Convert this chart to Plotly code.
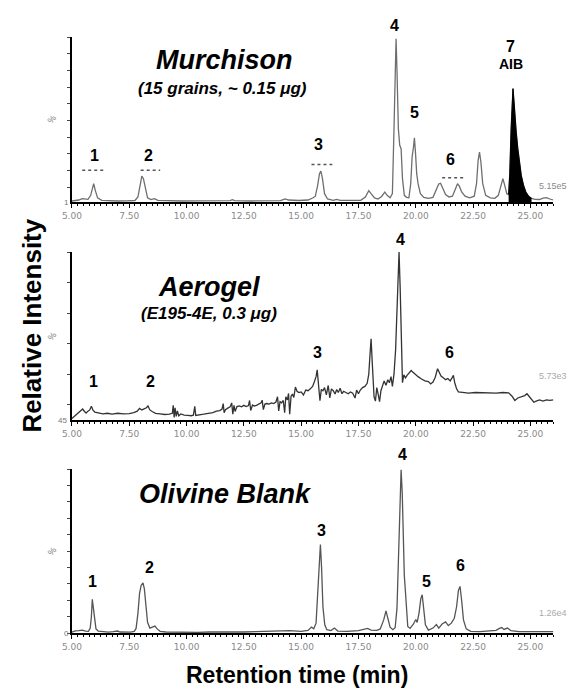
import plotly.graph_objects as go

# ---------------- data ----------------
tick_vals = [5.0, 7.5, 10.0, 12.5, 15.0, 17.5, 20.0, 22.5, 25.0]
tick_text = ["5.00", "7.50", "10.00", "12.50", "15.00", "17.50", "20.00", "22.50", "25.00"]

murchison_time = [5.0, 5.15, 5.3, 5.45, 5.55, 5.7, 5.82, 5.9, 5.95, 6.02, 6.12, 6.3, 6.6, 7.0, 7.4, 7.75, 7.88, 7.97,
                  8.05, 8.12, 8.2, 8.3, 8.45, 8.6, 8.75, 9.2, 9.8, 10.5, 11.2, 11.9, 12.0, 12.1, 12.8, 13.5, 14.1, 14.3,
                  14.45, 14.9, 15.3, 15.5, 15.62, 15.72, 15.8, 15.86, 15.93, 16.02, 16.15, 16.4, 16.55, 16.7, 17.2,
                  17.6, 17.8, 17.95, 18.05, 18.2, 18.35, 18.5, 18.65, 18.75, 18.88, 18.98, 19.05, 19.1, 19.14, 19.18,
                  19.24, 19.3, 19.36, 19.42, 19.5, 19.6, 19.7, 19.78, 19.84, 19.9, 19.94, 19.99, 20.04, 20.1, 20.2,
                  20.35, 20.55, 20.75, 20.9, 21.0, 21.08, 21.18, 21.3, 21.45, 21.6, 21.72, 21.82, 21.9, 22.0, 22.15,
                  22.35, 22.55, 22.65, 22.72, 22.78, 22.84, 22.92, 23.05, 23.25, 23.45, 23.6, 23.72, 23.8, 23.88,
                  23.97, 24.05, 24.1, 24.16, 24.21, 24.24, 24.28, 24.33, 24.38, 24.45, 24.52, 24.6, 24.7, 24.8,
                  24.92, 25.05, 25.2, 25.4, 25.55, 25.7, 25.85, 26.0]
murchison_pct = [1.6, 1.8, 2.2, 3.0, 2.8, 2.6, 5.0, 10.5, 12.0, 8.0, 3.5, 2.0, 1.7, 1.6, 1.7, 1.9, 4.0, 11.0,
                 16.5, 15.0, 9.0, 3.5, 2.4, 3.0, 2.0, 1.7, 1.6, 1.7, 1.6, 1.8, 2.4, 1.8, 1.6, 1.7, 1.8, 2.9,
                 2.2, 1.9, 2.2, 3.4, 4.5, 11.0, 18.0, 19.5, 15.0, 6.0, 2.8, 2.0, 2.6, 2.0, 1.8,
                 2.0, 4.0, 7.8, 6.0, 3.5, 2.8, 4.2, 7.0, 5.0, 3.5, 6.0, 45, 92, 99, 80,
                 45, 35, 33, 15, 5, 3.8, 3.5, 12, 28, 34, 39.5, 30, 18, 12, 6,
                 3.8, 3.2, 3.8, 8, 11.8, 12.2, 9, 5.5, 4.0, 4.5, 8.5, 12, 10.5, 7, 4.5,
                 3.5, 4.5, 12, 26, 31, 25, 12, 5, 3.5, 3.2, 5, 11, 15, 11,
                 6, 5.5, 18, 45, 66, 69, 62, 50, 43, 33, 24, 17, 11, 7,
                 4.5, 3.2, 2.6, 2.5, 3.3, 3.6, 2.8, 2.2]
aib_window = [24.05, 25.05]

aerogel_time = [5.0, 5.1, 5.2, 5.3, 5.4, 5.47, 5.55, 5.62, 5.7, 5.78, 5.85, 5.92, 6.0, 6.15, 6.35, 6.55, 6.75, 7.0,
                7.25, 7.5, 7.7, 7.85, 7.95, 8.05, 8.15, 8.25, 8.32, 8.4, 8.5, 8.65, 8.85, 9.05, 9.25, 9.38, 9.42,
                9.46, 9.5, 9.55, 9.6, 9.66, 9.75, 9.9, 10.05, 10.2, 10.3, 10.36, 10.4, 10.55, 10.75, 10.95, 11.15,
                11.3, 11.45, 11.55, 11.6, 11.64, 11.7, 11.8, 11.9, 11.97, 12.02, 12.07, 12.12, 12.2, 12.3, 12.4,
                12.5, 12.6, 12.7, 12.75, 12.8, 12.88, 12.95, 13.05, 13.15, 13.25, 13.3, 13.35, 13.42, 13.5, 13.6,
                13.7, 13.8, 13.9, 13.97, 14.02, 14.08, 14.15, 14.22, 14.28, 14.33, 14.4, 14.45, 14.5, 14.56, 14.62,
                14.68, 14.75, 14.82, 14.9, 15.0, 15.1, 15.2, 15.3, 15.4, 15.5, 15.58, 15.65, 15.7, 15.76, 15.82,
                15.88, 15.95, 16.02, 16.1, 16.18, 16.25, 16.32, 16.4, 16.48, 16.55, 16.62, 16.7, 16.78, 16.85,
                16.95, 17.05, 17.15, 17.25, 17.35, 17.42, 17.5, 17.58, 17.68, 17.78, 17.88, 17.95, 18.0, 18.05,
                18.1, 18.14, 18.18, 18.24, 18.3, 18.36, 18.42, 18.48, 18.55, 18.62, 18.7, 18.78, 18.85, 18.92,
                18.98, 19.05, 19.12, 19.2, 19.27, 19.32, 19.37, 19.42, 19.48, 19.55, 19.62, 19.7, 19.8, 19.88,
                19.98, 20.1, 20.25, 20.4, 20.55, 20.65, 20.75, 20.85, 20.95, 21.03, 21.1, 21.2, 21.3, 21.4, 21.5,
                21.58, 21.64, 21.7, 21.78, 21.86, 22.0, 22.3, 22.6, 22.9, 23.2, 23.5, 23.8, 24.05, 24.2, 24.32,
                24.45, 24.6, 24.75, 24.85, 24.95, 25.05, 25.15, 25.25, 25.4, 25.55, 25.7, 25.85, 26.0]
aerogel_pct = [45.5, 46.2, 46.8, 47.4, 48.0, 48.6, 47.8, 47.3, 47.9, 48.3, 49.5, 48.2, 47.6, 47.3, 47.0, 47.2, 46.9, 47.2,
               47.0, 47.1, 47.4, 47.9, 48.8, 48.3, 48.6, 49.0, 49.6, 48.3, 47.8, 47.2, 47.0, 46.8, 46.9, 47.2, 49.8,
               45.8, 49.0, 46.2, 48.0, 46.4, 47.0, 46.6, 46.5, 46.4, 46.6, 49.5, 46.5, 46.6, 46.9, 47.2, 47.4,
               47.9, 48.1, 48.6, 50.4, 47.4, 48.4, 48.9, 49.3, 50.6, 46.9, 49.8, 47.8, 49.4, 49.6, 49.3,
               49.8, 49.4, 49.7, 51.4, 48.1, 49.9, 49.6, 49.8, 50.1, 50.6, 51.5, 48.4, 50.2, 50.4, 50.2,
               50.6, 50.4, 50.9, 52.6, 48.0, 51.0, 50.6, 51.4, 47.4, 52.6, 51.6, 53.7, 46.9, 52.8, 53.5,
               52.4, 55.8, 54.4, 54.0, 54.2, 53.2, 54.8, 54.6, 55.2, 56.0, 57.6, 59.2, 61.4, 56.0, 51.3,
               55.0, 54.6, 55.6, 53.2, 56.3, 52.2, 55.2, 54.6, 53.5, 55.0, 54.0, 55.4, 53.6, 54.4,
               54.0, 53.6, 54.2, 53.8, 52.2, 54.8, 53.6, 54.8, 55.6, 56.0, 57.0, 60.0, 66.0, 71.6,
               64.0, 55.0, 52.6, 51.2, 55.6, 53.4, 51.0, 54.6, 56.6, 57.8, 56.4, 58.2, 57.2, 59.2,
               56.0, 60.0, 68.0, 82.0, 100.0, 88.0, 70.0, 57.2, 59.8, 58.8, 59.6, 60.4, 61.2, 60.6,
               59.8, 59.2, 58.4, 57.8, 57.6, 56.8, 57.4, 59.0, 61.8, 60.2, 59.4, 58.8, 58.2, 58.6, 57.8,
               58.8, 59.6, 57.2, 55.2, 54.2, 54.0, 53.8, 54.0, 53.9, 54.0, 53.8, 54.0, 53.9, 52.8, 51.4,
               52.2, 52.6, 53.0, 53.6, 52.6, 51.6, 50.8, 51.2, 51.6, 51.2, 51.6, 51.4, 51.6]

olivine_time = [5.0, 5.15, 5.3, 5.45, 5.6, 5.72, 5.8, 5.85, 5.89, 5.93, 5.98, 6.05, 6.15, 6.35, 6.6, 6.8, 7.0, 7.1,
                7.3, 7.55, 7.72, 7.8, 7.88, 7.95, 8.02, 8.1, 8.16, 8.22, 8.3, 8.4, 8.52, 8.62, 8.72, 8.85, 9.1,
                9.5, 10.0, 10.5, 11.0, 11.5, 12.0, 12.5, 13.0, 13.5, 14.0, 14.5, 15.0, 15.3, 15.45, 15.55, 15.65,
                15.72, 15.78, 15.84, 15.89, 15.95, 16.03, 16.12, 16.3, 16.45, 16.6, 17.0, 17.5, 17.75, 17.9, 18.05,
                18.3, 18.45, 18.6, 18.7, 18.78, 18.88, 19.0, 19.1, 19.18, 19.25, 19.31, 19.36, 19.41, 19.46, 19.5,
                19.55, 19.6, 19.65, 19.75, 19.9, 20.0, 20.06, 20.14, 20.22, 20.28, 20.34, 20.42, 20.55, 20.75, 20.9,
                21.0, 21.15, 21.3, 21.42, 21.55, 21.68, 21.78, 21.86, 21.93, 22.0, 22.08, 22.2, 22.4, 22.8, 23.2,
                23.5, 23.65, 23.75, 23.85, 24.0, 24.15, 24.5, 25.0, 25.5, 26.0]
olivine_pct = [0.6, 1.3, 1.4, 1.8, 1.2, 1.0, 3.0, 10, 20.5, 16, 7, 2.5, 1.2, 0.8, 0.5, 0.8, 1.2, 0.6,
               0.4, 0.5, 1.0, 2.8, 12, 24, 29, 30.5, 27, 17, 6.5, 3.0, 3.5, 4.2, 2.5, 1.0, 0.6,
               0.5, 0.6, 0.4, 0.6, 0.5, 0.7, 0.6, 0.8, 1.0, 1.3, 1.4, 1.0, 1.6, 3.6, 2.6, 6,
               25, 45, 54, 40, 16, 5, 2.0, 1.5, 3.0, 1.2, 1.0, 1.4, 2.0, 2.8, 1.8,
               1.6, 2.5, 8, 13.5, 9, 3.5, 2.0, 3.2, 15, 45, 80, 99.5, 85, 55, 35,
               25, 10, 4, 2.8, 5.5, 8.2, 6.5, 12, 21, 23.3, 16, 5, 1.8, 3.0, 5.2,
               3.0, 5.5, 6.8, 4.5, 6, 9, 16, 26, 28.4, 20, 8, 2.5, 1.0, 0.8, 1.0,
               1.6, 2.8, 3.3, 2.2, 3.0, 1.5, 0.8, 0.8, 1.0, 0.8]

# peak number labels: (label, time, %)
murchison_labels = ["1", "2", "3", "4", "5", "6"]
murchison_label_t = [6.0, 8.35, 15.75, 19.05, 19.95, 21.5]
murchison_label_y = [29, 29, 35.5, 107, 55, 26.5]
aerogel_labels = ["1", "2", "3", "4", "6"]
aerogel_label_t = [5.95, 8.45, 15.7, 19.35, 21.45]
aerogel_label_y = [57.5, 57.5, 67, 104, 67]
olivine_labels = ["1", "2", "3", "4", "5", "6"]
olivine_label_t = [5.92, 8.39, 15.9, 19.4, 20.46, 21.93]
olivine_label_y = [31.5, 40, 62.5, 109, 31.5, 41]

# ---------------- figure ----------------
W, H = 572, 691
def px(x):
    return x / W
def py(y):
    return 1 - y / H

X0, X1 = 63, 553
XR = [5.0, 26.0]
panels = [  # (top px, bottom px, y-range)
    (37, 202, [1, 100]),
    (252, 420, [45, 100]),
    (469, 633, [0, 100]),
]

fig = go.Figure()
trace_colors = ["#6e6e6e", "#333333", "#555555"]

series = [(murchison_time, murchison_pct), (aerogel_time, aerogel_pct), (olivine_time, olivine_pct)]
for i, (t, v) in enumerate(series):
    ax = "" if i == 0 else str(i + 1)
    fig.add_trace(go.Scatter(x=t, y=v, mode="lines", xaxis="x" + ax, yaxis="y" + ax,
                             line=dict(color=trace_colors[i], width=1.3),
                             showlegend=False, hoverinfo="skip"))

# AIB filled peak
aib_t = [t for t in murchison_time if aib_window[0] <= t <= aib_window[1]]
aib_v = [v for t, v in zip(murchison_time, murchison_pct) if aib_window[0] <= t <= aib_window[1]]
fig.add_trace(go.Scatter(x=aib_t, y=aib_v, mode="lines", fill="tozeroy", fillcolor="black",
                         line=dict(color="black", width=1), xaxis="x", yaxis="y",
                         showlegend=False, hoverinfo="skip"))

layout = dict(width=W, height=H, margin=dict(l=0, r=0, t=0, b=0),
              paper_bgcolor="white", plot_bgcolor="white", showlegend=False)

for i, (top, bot, yr) in enumerate(panels):
    ax = "" if i == 0 else str(i + 1)
    layout["xaxis" + ax] = dict(domain=[px(X0), px(X1)], anchor="y" + ax, range=XR,
                                tickvals=tick_vals, ticktext=tick_text, ticks="outside", ticklen=4,
                                tickwidth=1, tickcolor="black", showline=True, linewidth=2,
                                linecolor="black", showgrid=False, zeroline=False,
                                tickfont=dict(family="DejaVu Sans", size=9, color="#8a8a8a"),
                                minor=dict(dtick=0.25, tick0=5, ticks="outside", ticklen=2,
                                           tickcolor="black", showgrid=False))
    layout["yaxis" + ax] = dict(domain=[py(bot), py(top)], anchor="x" + ax, range=yr,
                                showline=True, linewidth=2, linecolor="black", ticks="outside",
                                ticklen=3, tickcolor="#444", dtick=10, tick0=0,
                                showticklabels=False, showgrid=False, zeroline=False)
fig.update_layout(**layout)

ann = []
def add_text(text, x, y, xref, yref, size, bold=True, italic=False, color="black", angle=0,
             xanchor="center", yanchor="middle", family="Liberation Sans"):
    s = text
    if bold:
        s = "<b>" + s + "</b>"
    if italic:
        s = "<i>" + s + "</i>"
    ann.append(dict(text=s, x=x, y=y, xref=xref, yref=yref, showarrow=False, textangle=angle,
                    font=dict(family=family, size=size, color=color), xanchor=xanchor, yanchor=yanchor))

def add_panel_text(i, text, t, val, size, **kw):
    # place text at (time, %) of panel i using domain references (never hidden off-range)
    ax = "" if i == 0 else str(i + 1)
    yr = panels[i][2]
    fx = (t - XR[0]) / (XR[1] - XR[0])
    fy = (val - yr[0]) / (yr[1] - yr[0])
    add_text(text, fx, fy, "x" + ax + " domain", "y" + ax + " domain", size, **kw)

label_sets = [(murchison_labels, murchison_label_t, murchison_label_y),
              (aerogel_labels, aerogel_label_t, aerogel_label_y),
              (olivine_labels, olivine_label_t, olivine_label_y)]
for i, (labs, ts, ys) in enumerate(label_sets):
    for lab, t, y in zip(labs, ts, ys):
        add_panel_text(i, lab, t, y, 16)

add_panel_text(0, "7", 24.15, 94, 16)
add_panel_text(0, "AIB", 24.15, 83.5, 14)

# titles
add_panel_text(0, "Murchison", 11.65, 86, 27, italic=True)
add_panel_text(0, "(15 grains, ~ 0.15 \u03bcg)", 11.55, 69, 17, italic=True)
add_panel_text(1, "Aerogel", 11.0, 88.5, 27, italic=True)
add_panel_text(1, "(E195-4E, 0.3 \u03bcg)", 11.0, 80, 17, italic=True)
add_panel_text(2, "Olivine Blank", 11.7, 85, 27, italic=True)

# axis decorations
for i, (top, bot, yr) in enumerate(panels):
    mid = (top + bot) / 2
    add_text("%", px(43), py(mid), "paper", "paper", 9, bold=False, color="#777", angle=-50)
add_text("1", px(57), py(202), "paper", "paper", 8, bold=False, color="#777")
add_text("45", px(53), py(420), "paper", "paper", 8, bold=False, color="#777")
add_text("0", px(57), py(633), "paper", "paper", 8, bold=False, color="#777")
add_text("5.15e5", px(569), py(186), "paper", "paper", 9, bold=False, color="#8a8a8a", xanchor="right")
add_text("5.73e3", px(569), py(376), "paper", "paper", 9, bold=False, color="#aaa", xanchor="right")
add_text("1.26e4", px(569), py(613), "paper", "paper", 9, bold=False, color="#aaa", xanchor="right")

add_text("Relative Intensity", px(22), py(326), "paper", "paper", 26, angle=-90)
add_text("Retention time (min)", px(292), py(675), "paper", "paper", 23)

fig.update_layout(annotations=ann)

# dotted marker lines under top-panel labels
dot_lines = [(5.45, 6.4, 20), (8.0, 8.85, 20), (15.45, 16.36, 23.5), (21.15, 22.1, 15.5)]
shapes = []
for a, b, y in dot_lines:
    shapes.append(dict(type="line", x0=a, x1=b, y0=y, y1=y, xref="x", yref="y",
                       line=dict(color="#555", width=1.5, dash="dot")))
fig.update_layout(shapes=shapes)

fig.write_html("out.html", config={"displayModeBar": False},
               post_script="document.body.style.margin='0';document.body.style.overflow='hidden';")
